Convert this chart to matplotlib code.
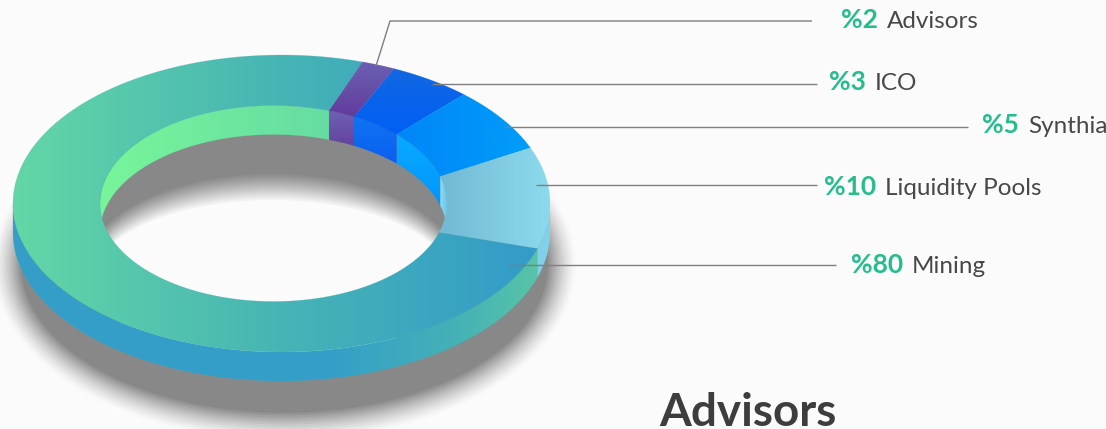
import numpy as np
import matplotlib
matplotlib.use("Agg")
import matplotlib.pyplot as plt
from matplotlib.colors import LinearSegmentedColormap, to_rgb
from matplotlib.patches import Polygon

# label values printed next to the chart
names = ["Advisors", "ICO", "Synthia", "Liquidity Pools", "Mining"]
label_pcts = [2, 3, 5, 10, 80]
# share of the ring each slice really takes in the picture
slice_shares = [2, 5, 7, 11, 75]
title = "Advisors"

BG = "#fbfbfb"
GREY = "#888888"
START = 72.4
DEPTH = 29

# ring geometry in image pixels
OUT = (281.5, 203.5, 268.5, 148.5)
INN = (273.5, 203.5, 173.5, 98.0)
# the inner rim is seen in perspective, so its seams sit a little behind the outer ones
inner_skew = [-1.1, -2.9, -2.4, -6.0, 0.6, -1.1]

# (left colour, right colour) or vertical pairs for each slice
face_cols = [("#6b60b2", "#623c9b", "v"), ("#1268e0", "#005ff6", "v"), ("#0086fa", "#009df8", "h"),
             ("#72b9d4", "#8cdaee", "h")]
wall_cols = [("#6e62b4", "#64429f", "v"), ("#0f74f2", "#0a5ff0", "v"), ("#0aaaff", "#0096ff", "v"),
             ("#8fdcf2", "#6cc4e6", "h")]

label_x = [841, 829, 982, 824, 851]
name_x = [887, 875, 1028, 885, 912]
label_base = [28, 90, 133, 195, 273]
leaders = [([376, 390, 812], [66, 21, 21]), ([432, 817], [84, 84]), ([504, 968], [127, 127]),
           ([536, 817], [185, 185]), ([508, 836], [265, 265])]


def arc(ell, a0, a1, n=120, dy=0):
    cx, cy, rx, ry = ell
    t = np.radians(np.linspace(a0, a1, n))
    return np.column_stack([cx + rx * np.cos(t), cy - ry * np.sin(t) + dy])


def band(e1, e2, a0, a1, b0=None, b1=None, dy2=0):
    b0 = a0 if b0 is None else b0
    b1 = a1 if b1 is None else b1
    return np.vstack([arc(e1, a0, a1), arc(e2, b1, b0, dy=dy2)])


def grad_fill(ax, verts, stops, horizontal=True, z=3):
    x0, y0 = verts.min(axis=0)
    x1, y1 = verts.max(axis=0)
    cmap = LinearSegmentedColormap.from_list("g", stops, N=512)
    ramp = np.linspace(0, 1, 512)
    img = ramp[None, :] if horizontal else ramp[:, None]
    im = ax.imshow(img, cmap=cmap, extent=(x0, x1, y1, y0), aspect="auto", zorder=z, vmin=0, vmax=1,
                   interpolation="bilinear")
    im.set_clip_path(Polygon(verts, closed=True, transform=ax.transData))
    # soft edge, clip paths come out a bit hard
    ax.add_patch(Polygon(verts, closed=True, fc="none", ec=stops[len(stops) // 2][1], lw=0.3, alpha=0.5, zorder=z))


def mix(c1, c2, f):
    a, b = np.array(to_rgb(c1)), np.array(to_rgb(c2))
    return tuple(a + (b - a) * f)


fig = plt.figure(figsize=(11.06, 4.29), dpi=100, facecolor=BG)
ax = fig.add_axes([0, 0, 1, 1])
ax.set_facecolor(BG)
ax.axis("off")

# stepped soft shadow under the ring
steps = 14
for i in range(steps):
    f = i / (steps - 1)
    grow = 30 * (1 - f)
    col = mix(BG, GREY, f ** 1.4)
    ax.add_patch(Polygon(arc((284.5, 265, 263.5 + grow, 148 + grow), 0, 360, 240), closed=True, fc=col, ec="none", zorder=1))
for i in range(steps):
    f = i / (steps - 1)
    col = mix(GREY, BG, f ** 1.1)
    ry = 93 - 13 * f
    ax.add_patch(Polygon(arc((272, 265 + 15 * f, 185 - 6 * f, ry), 0, 360, 240), closed=True, fc=col, ec="none", zorder=1.5))

# slice edges, clockwise from START
edges = START - np.cumsum([0] + slice_shares) * 3.6
inner = edges + np.array(inner_skew)

# outer wall
grad_fill(ax, band(OUT, OUT, edges[4], -180, dy2=DEPTH),
          [(0, "#349ec8"), (0.6, "#349ec8"), (0.85, "#45b2b6"), (1, "#58c4a8")], z=2)
wall_l = band(OUT, OUT, 0, edges[4], dy2=DEPTH)
ax.add_patch(Polygon(wall_l, closed=True, fc="#82cfe8", ec="none", zorder=2))

# inner wall seen through the hole
grad_fill(ax, band(INN, INN, 180, inner[0], dy2=DEPTH), [(0, "#78f59a"), (1, "#66dca3")], z=2.2)
for i in range(4):
    c0, c1, d = wall_cols[i]
    a1 = max(inner[i + 1], 0)
    grad_fill(ax, band(INN, INN, inner[i], a1, dy2=DEPTH), [(0, c0), (1, c1)], d == "h", z=2.2)

# top face
grad_fill(ax, band(OUT, INN, edges[4], edges[5], inner[4], inner[5]),
          [(0, "#63d7a6"), (0.5, "#47b5b4"), (1, "#339bc9")], z=3)
for i in range(4):
    c0, c1, d = face_cols[i]
    grad_fill(ax, band(OUT, INN, edges[i], edges[i + 1], inner[i], inner[i + 1]), [(0, c0), (1, c1)], d == "h", z=3)

# leader lines
for xs, ys in leaders:
    ax.plot(xs, ys, color="#7f7f7f", lw=1.0, zorder=5, solid_capstyle="butt")

for i in range(5):
    ax.text(label_x[i], label_base[i], f"%{label_pcts[i]}", color="#26bd8e", fontsize=19, fontweight="bold",
            family="Lato", va="baseline", ha="left", zorder=6)
    ax.text(name_x[i], label_base[i], names[i], color="#484848", fontsize=17.5,
            family="Lato", va="baseline", ha="left", zorder=6)

ax.text(659, 426, title, color="#3d3d3d", fontsize=33, fontweight="bold", family="Lato",
        va="baseline", ha="left", zorder=6)

ax.set_xlim(0, 1106)
ax.set_ylim(429, 0)
fig.savefig("out.png", dpi=100, facecolor=BG)
